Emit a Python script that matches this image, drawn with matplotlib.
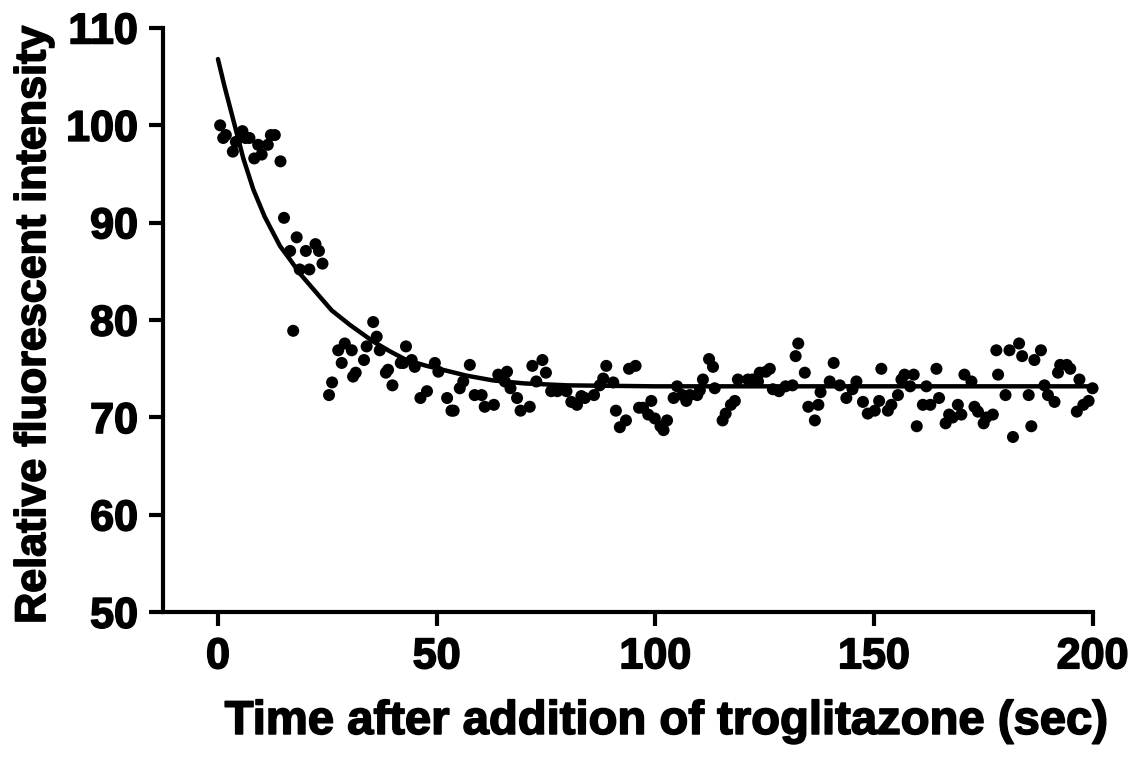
import matplotlib
matplotlib.use('Agg')
import matplotlib.pyplot as plt
import matplotlib.patheffects as pe

# measured points (time in sec, relative fluorescence)
time_s = [0.5, 1.2, 1.8, 3.4, 4.1, 5.6, 6.3, 7.2, 8.3, 9.2, 10.0, 11.4, 12.1, 13.0, 14.3,
          15.1, 16.5, 17.2, 18.0, 18.7, 20.1, 20.9, 22.3, 23.1, 23.9, 25.4, 26.1, 27.5, 28.3, 29.0,
          30.6, 30.9, 31.5, 33.4, 34.0, 35.5, 36.3, 37.0, 38.4, 38.9, 39.9, 41.8, 42.4, 43.0, 44.3,
          45.0, 46.3, 47.8, 49.6, 50.4, 52.4, 53.4, 53.9, 55.3, 56.1, 57.6, 58.7, 60.3, 61.0, 63.1,
          64.1, 65.6, 66.1, 66.9, 68.4, 69.2, 71.3, 71.9, 72.8, 74.2, 75.0, 76.2, 77.6, 79.7, 80.8,
          82.1, 83.1, 83.9, 86.0, 87.3, 88.1, 88.8, 90.4, 91.0, 91.9, 93.3, 94.0, 95.5, 96.3, 97.2,
          98.4, 99.1, 99.9, 101.2, 101.9, 102.7, 104.2, 105.0, 106.2, 107.1, 107.9, 109.6, 110.2,
          110.9, 112.3, 113.2, 113.6, 115.4, 116.1, 117.3, 118.2, 118.9, 121.2, 122.2, 123.5, 123.9,
          125.3, 126.2, 126.9, 128.3, 129.8, 131.4, 132.1, 132.7, 134.2, 135.0, 136.5, 137.3, 137.8,
          139.9, 140.8, 142.2, 143.7, 145.1, 146.0, 147.5, 148.6, 150.2, 151.2, 151.7, 153.2, 154.0,
          155.5, 156.3, 157.0, 158.3, 159.1, 159.8, 161.2, 162.0, 162.9, 164.3, 164.9, 166.4, 167.2,
          168.0, 169.2, 170.0, 170.7, 172.3, 173.0, 173.8, 175.1, 175.7, 177.2, 178.0, 178.4, 180.1,
          181.0, 181.8, 183.2, 183.9, 185.4, 186.0, 186.7, 188.2, 189.0, 189.8, 191.3, 192.1, 192.6,
          194.1, 194.9, 196.4, 197.0, 197.9, 199.1, 200.0]
intensity = [100.0, 98.7, 99.0, 97.3, 98.3, 99.4, 98.7, 98.7, 96.6, 98.0, 97.0, 98.0, 99.0, 99.0, 96.3,
             90.5, 87.1, 78.9, 88.5, 85.2, 87.1, 85.2, 87.8, 87.1, 85.8, 72.3, 73.6, 76.9, 75.6, 77.6,
             76.9, 74.2, 74.6, 75.9, 77.3, 79.8, 78.3, 76.9, 74.6, 74.9, 73.3, 75.6, 75.6, 77.3, 75.9,
             75.2, 72.0, 72.7, 75.6, 74.7, 72.0, 70.7, 70.7, 73.0, 73.7, 75.4, 72.3, 72.3, 71.1, 71.3,
             74.4, 73.7, 74.7, 73.0, 72.0, 70.7, 71.1, 75.3, 73.7, 75.9, 74.6, 72.7, 72.7, 72.7, 71.6,
             71.3, 72.2, 72.0, 72.3, 73.3, 74.0, 75.3, 73.6, 70.7, 69.0, 69.7, 75.0, 75.3, 71.0, 71.0,
             70.3, 71.7, 69.9, 69.1, 68.7, 69.7, 72.0, 73.2, 72.3, 71.7, 72.3, 72.3, 72.8,
             73.9, 76.0, 75.2, 73.0, 69.7, 70.4, 71.3, 71.7, 73.9, 73.9, 73.9, 73.7, 74.6,
             74.7, 75.0, 72.9, 72.7, 73.2, 73.3, 76.3, 77.6, 74.6, 71.1, 69.7, 71.3, 72.6,
             73.7, 75.6, 73.3, 72.0, 72.9, 73.7, 71.6, 70.4, 70.7, 71.7, 75.0, 70.7, 71.3,
             72.3, 73.9, 74.4, 73.2, 74.4, 69.1, 71.3, 73.2, 71.3, 75.0, 72.0, 69.4, 70.3,
             70.0, 71.3, 70.3, 74.4, 73.7, 71.1, 70.6, 69.4, 70.0, 70.3, 76.9, 74.4, 72.3,
             76.9, 68.0, 77.6, 76.3, 72.3, 69.1, 75.9, 76.9, 73.3, 72.3, 71.6, 74.6, 75.4,
             75.4, 75.0, 70.6, 73.9, 71.3, 71.7, 73.0]

# fitted decay curve
fit_t = [0, 1.5, 2.9, 5.8, 8.1, 10.7, 14.2, 16.5, 18.7, 23.3, 26.0, 30.2, 35.5, 39.3,
         43.1, 47.7, 52.3, 56.8, 63, 70, 80, 100, 150, 200]
fit_y = [106.8, 104.0, 101.6, 96.6, 93.4, 90.6, 87.6, 86.2, 84.8, 82.4, 81.0, 79.5, 77.8, 76.8,
         75.9, 75.3, 74.8, 74.3, 73.8, 73.5, 73.3, 73.2, 73.2, 73.2]

yticks = [50, 60, 70, 80, 90, 100, 110]
xticks = [0, 50, 100, 150, 200]

plt.rcParams['font.family'] = ['Liberation Sans', 'DejaVu Sans']
plt.rcParams['font.weight'] = 'bold'

heavy = [pe.withStroke(linewidth=1.2, foreground='black')]

fig = plt.figure(figsize=(11.31, 7.76), dpi=100)
ax = fig.add_axes([0.144, 0.211, 0.822, 0.753])

ax.plot(fit_t, fit_y, color='black', lw=3.2, zorder=2, solid_capstyle='round')
ax.scatter(time_s, intensity, s=75, color='black', edgecolors='none', zorder=3, clip_on=False)

ax.set_xlim(-12.6, 200)
ax.set_ylim(50, 110)
ax.set_xticks(xticks)
ax.set_yticks(yticks)

for side in ['top', 'right']:
    ax.spines[side].set_visible(False)
for side in ['left', 'bottom']:
    ax.spines[side].set_linewidth(3)

ax.tick_params(axis='both', direction='out', length=10, width=3, labelsize=31, pad=8)
for lab in ax.get_xticklabels() + ax.get_yticklabels():
    lab.set_fontweight('bold')
    lab.set_path_effects(heavy)

xl = ax.set_xlabel('Time after addition of troglitazone (sec)', fontsize=34, fontweight='bold', labelpad=18)
yl = ax.set_ylabel('Relative fluorescent intensity', fontsize=31, fontweight='bold', labelpad=8)
xl.set_path_effects(heavy)
yl.set_path_effects(heavy)
ax.xaxis.set_label_coords(0.542, -0.15)
ax.yaxis.set_label_coords(-0.117, 0.49)

fig.savefig('out.png', dpi=100)
